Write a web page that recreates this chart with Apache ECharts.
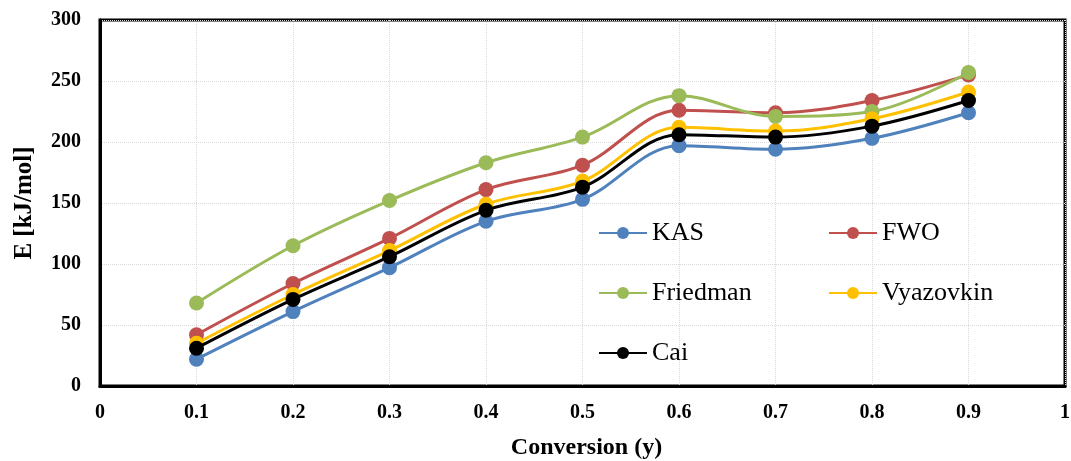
<!DOCTYPE html>
<html><head><meta charset="utf-8">
<script src="https://cdn.jsdelivr.net/npm/echarts@6/dist/echarts.min.js"></script>
<style>html,body{margin:0;padding:0;background:#fff}#c{width:1071px;height:461px}</style>
</head><body><div id="c"></div>
<script>
const conversion = [0.1, 0.2, 0.3, 0.4, 0.5, 0.6, 0.7, 0.8, 0.9];
const KAS = [22, 61, 97, 135, 153, 197, 194, 203, 224];
const FWO = [42, 84, 121, 161, 181, 226, 224, 234, 255];
const Friedman = [68, 115, 152, 183, 204, 238, 221, 225, 257];
const Vyazovkin = [35, 75, 111, 149, 168, 212, 209, 219, 241];
const Cai = [31, 71, 106, 144, 163, 206, 204, 213, 234];
const seriesNames = ['KAS', 'FWO', 'Friedman', 'Vyazovkin', 'Cai'];
const seriesData = [KAS, FWO, Friedman, Vyazovkin, Cai];
const colors = ['#4F81BD', '#C0504D', '#9BBB59', '#FFC000', '#000000'];
const legendPos = [[598, 220], [828, 220], [598, 280], [828, 280], [598, 340]];

const chart = echarts.init(document.getElementById('c'), null, {renderer: 'canvas'});
const serif = '"Liberation Serif", "Times New Roman", serif';
chart.setOption({
  animation: false,
  backgroundColor: '#fff',
  grid: {left: 100, right: 6, top: 20, bottom: 75, show: true, borderColor: '#000', borderWidth: 3, backgroundColor: 'transparent', outerBoundsMode: 'none', containLabel: false},
  xAxis: {
    type: 'value', min: 0, max: 1, interval: 0.1,
    name: 'Conversion (y)', nameLocation: 'middle', nameGap: 50,
    nameTextStyle: {fontFamily: serif, fontWeight: 'bold', fontSize: 24, color: '#000', padding: [0, 0, 0, 8]},
    axisLine: {show: true, lineStyle: {color: '#000', width: 3}},
    axisTick: {show: false},
    axisLabel: {fontFamily: serif, fontWeight: 'bold', fontSize: 20, color: '#000', margin: 17},
    splitLine: {show: true, lineStyle: {color: '#d9d9d9', width: 1, type: 'dotted'}}
  },
  yAxis: {
    type: 'value', min: 0, max: 300, interval: 50,
    name: 'E [kJ/mol]', nameLocation: 'middle', nameGap: 63, nameRotate: 90,
    nameTextStyle: {fontFamily: serif, fontWeight: 'bold', fontSize: 25, color: '#000'},
    axisLine: {show: true, lineStyle: {color: '#000', width: 3}},
    axisTick: {show: false},
    axisLabel: {fontFamily: serif, fontWeight: 'bold', fontSize: 20, color: '#000', margin: 19},
    splitLine: {show: true, lineStyle: {color: '#d9d9d9', width: 1, type: 'dotted'}}
  },
  legend: seriesNames.map((n, i) => ({
    data: [n], left: legendPos[i][0], top: legendPos[i][1],
    itemWidth: 48, itemHeight: 15, itemGap: 0,
    textStyle: {fontFamily: serif, fontSize: 26, color: '#000', padding: [0, 0, 0, 0]},
    padding: 0
  })),
  series: seriesNames.map((n, i) => ({
    name: n, type: 'line', smooth: 0.35,
    data: conversion.map((x, j) => [x, seriesData[i][j]]),
    symbol: 'circle', symbolSize: 15,
    itemStyle: {color: colors[i]},
    lineStyle: {color: colors[i], width: 3},
    z: 2 + i
  }))
});
</script></body></html>
